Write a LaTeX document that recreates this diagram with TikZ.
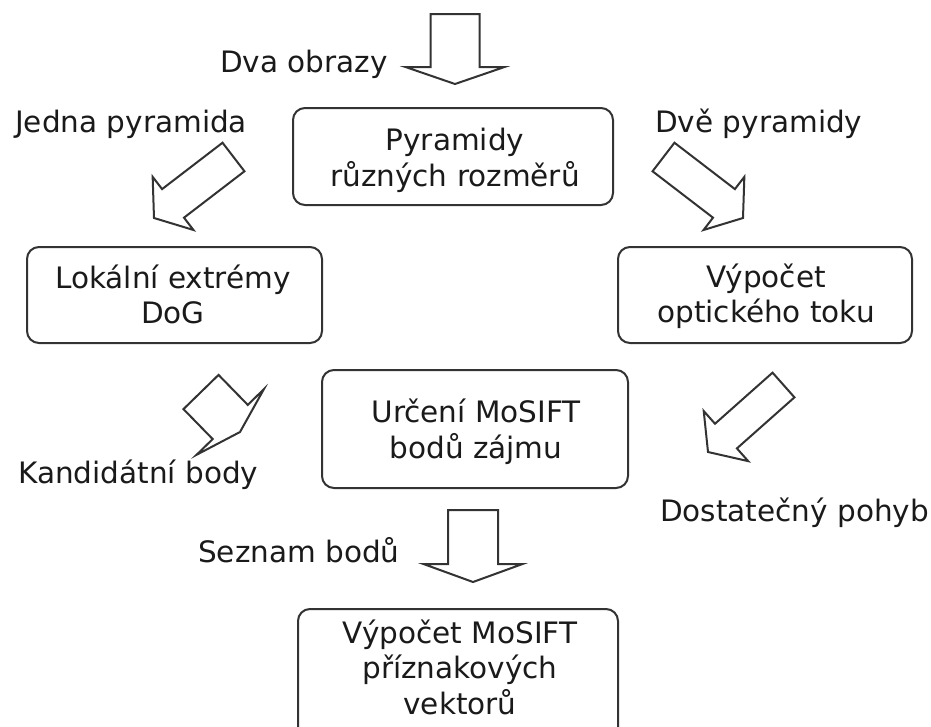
\documentclass[tikz,border=0pt]{standalone}
\usepackage{fontspec}
\setmainfont{DejaVu Sans}
\usetikzlibrary{calc}

\definecolor{ink}{HTML}{1A1A1A}
\definecolor{edge}{HTML}{333333}

% Block arrow: #1 name, #2 tail centre, #3 tip, #4 shaft width, #5 head width, #6 head length
\newcommand\blockarrow[6]{%
  \coordinate (#1-t) at #2;
  \coordinate (#1-p) at #3;
  \coordinate (#1-b) at ($(#1-p)!#6pt!(#1-t)$);
  \draw[arrowline]
    ($(#1-t)!#4*0.5pt!90:(#1-p)$) -- ($(#1-b)!#4*0.5pt!90:(#1-p)$) --
    ($(#1-b)!#5*0.5pt!90:(#1-p)$) -- (#1-p) --
    ($(#1-b)!#5*0.5pt!-90:(#1-p)$) -- ($(#1-b)!#4*0.5pt!-90:(#1-p)$) --
    ($(#1-t)!#4*0.5pt!-90:(#1-p)$) -- cycle;}

\begin{document}
\begin{tikzpicture}[x=1pt,y=-1pt,
  every node/.style={font=\fontsize{29.5}{35}\selectfont, text=ink},
  box/.style={draw=edge, line width=2pt, rounded corners=12pt, inner sep=0pt},
  boxtext/.style={align=center, inner sep=0pt, anchor=north},
  label/.style={anchor=base west, inner sep=0pt},
  arrowline/.style={draw=edge, line width=2pt, line join=miter, fill=white}]
\useasboundingbox (0,0) rectangle (931,726);
\clip (0,0) rectangle (931,726);

% process boxes
\node[box, minimum width=320pt, minimum height=97pt] (pyr) at (453,156.5) {};
\node[boxtext] (pyrtext) at (455,125.5) {\strut Pyramidy\\\strut různých rozměrů};

\node[box, minimum width=295pt, minimum height=96pt] (dog) at (174.5,295) {};
\node[boxtext] (dogtext) at (173,263.5) {\strut Lokální extrémy\\\strut DoG};

\node[box, minimum width=294pt, minimum height=96pt] (flow) at (765,295) {};
\node[boxtext] (flowtext) at (766,262.5) {\strut Výpočet\\\strut optického toku};

\node[box, minimum width=306pt, minimum height=118pt] (mosift) at (475,429) {};
\node[boxtext] (mosifttext) at (476,397.5) {\strut Určení MoSIFT\\\strut bodů zájmu};

\node[box, minimum width=320pt, minimum height=140pt, anchor=north] (desc) at (458,608) {};
\node[boxtext] (desctext) at (460,618.5) {\strut Výpočet MoSIFT\\\strut příznakových\\\strut vektorů};

% block arrows
\blockarrow{a1}{(455,14)}{(455,84)}{49}{99}{17}
\blockarrow{a2}{(233.5,157)}{(154,218)}{36}{67}{24}
\blockarrow{a3}{(663.5,157)}{(743,218)}{36}{67}{24}
\blockarrow{a4}{(201,392)}{(240,432)}{49}{94}{14}
\blockarrow{a5}{(783.5,385)}{(708,452)}{33}{67}{24}
\blockarrow{a6}{(473,510)}{(473,582)}{50}{99}{18}

% arrow captions
\node[label] (l1) at (220,72) {Dva obrazy};
\node[label] (l2) at (15,132) {Jedna pyramida};
\node[label] (l3) at (655,132) {Dvě pyramidy};
\node[label] (l4) at (18,483) {Kandidátní body};
\node[label] (l5) at (660,521) {Dostatečný pohyb};
\node[label] (l6) at (198,562) {Seznam bodů};
\end{tikzpicture}
\end{document}
